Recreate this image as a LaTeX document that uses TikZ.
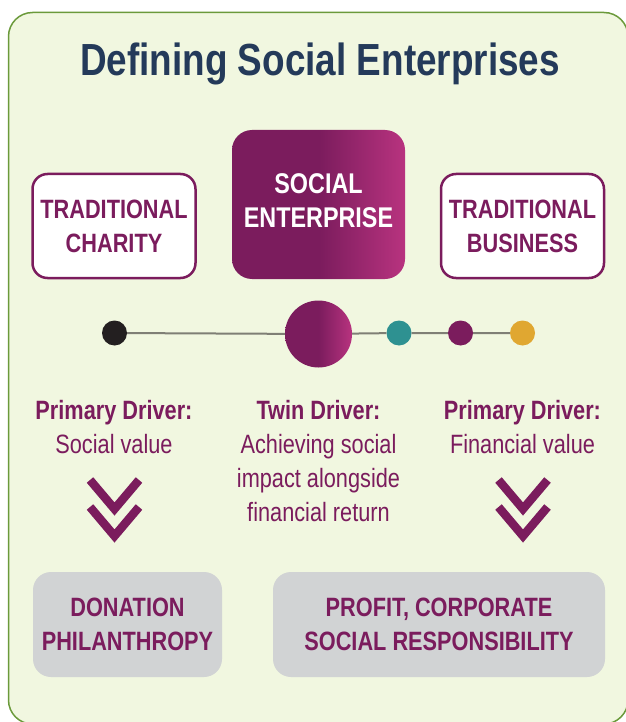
\documentclass[tikz,border=0pt]{standalone}
\usepackage{fontspec}
\setmainfont{Liberation Sans}[FakeStretch=0.82]
\usepackage{xcolor}
\usetikzlibrary{positioning}

\definecolor{sePlum}{HTML}{7B1C5D}
\definecolor{sePink}{HTML}{B8337F}
\definecolor{seNavy}{HTML}{243A5A}
\definecolor{sePanel}{HTML}{F1F7E0}
\definecolor{seEdge}{HTML}{6B9A3B}
\definecolor{seGrey}{HTML}{D1D3D4}
\definecolor{seTeal}{HTML}{2E9191}
\definecolor{seGold}{HTML}{E0A731}
\definecolor{seInk}{HTML}{231F20}
\definecolor{seLine}{HTML}{7F7F75}

\begin{document}
\begin{tikzpicture}[
    x=1pt, y=-1pt,
    every node/.style={font=\fontsize{26.5}{34}\selectfont, text=sePlum,
                       align=center, inner sep=0pt},
    sidebox/.style={draw=sePlum, line width=2.5pt, fill=white,
                    rounded corners=15pt, minimum width=163pt, minimum height=104pt,
                    font=\fontsize{26.5}{34}\selectfont\bfseries},
    corebox/.style={rounded corners=20pt, left color=sePlum, right color=sePink,
                    middle color=sePlum, minimum width=173pt, minimum height=149pt,
                    text=white, font=\fontsize{28.5}{34}\selectfont\bfseries},
    outcome/.style={fill=seGrey, rounded corners=18pt, minimum height=105pt,
                    font=\fontsize{26.5}{34}\selectfont\bfseries},
    dot/.style={circle, minimum size=25pt},
    driver/.style={anchor=north},
    chevron/.style={draw=sePlum, line width=8.5pt},
  ]
  \useasboundingbox (0,0) rectangle (625,722);

  % panel
  \draw[draw=seEdge, fill=sePanel, line width=1.5pt, rounded corners=24pt]
    (8.5,12.5) rectangle (628,724);

  \node[text=seNavy, font=\fontsize{45}{50}\selectfont\bfseries] (title) at (320,64)
    {Defining Social Enterprises};

  % the three models
  \node[sidebox] (charity) at (114,226) {TRADITIONAL\\CHARITY};
  \node[corebox] (enterprise) at (318.5,204.5) {SOCIAL\\ENTERPRISE\rule[-7pt]{0pt}{7pt}};
  \node[sidebox] (business) at (522.5,226) {TRADITIONAL\\BUSINESS};

  % spectrum line
  \node[dot, fill=seInk] (pBlack) at (114.5,333) {};
  \node[dot, minimum size=67pt, left color=sePlum, right color=sePink,
        middle color=sePlum] (pHub) at (318.5,334) {};
  \node[dot, fill=seTeal] (pTeal) at (399,333) {};
  \node[dot, fill=sePlum] (pPlum) at (460.5,333) {};
  \node[dot, fill=seGold] (pGold) at (522.5,333) {};
  \draw[seLine, line width=2pt] (pBlack) -- (pHub) -- (pTeal) -- (pPlum) -- (pGold);

  % drivers
  \node[driver] (drvCharity) at (114,400) {\textbf{Primary Driver:}\\Social value};
  \node[driver] (drvTwin) at (318.5,400)
    {\textbf{Twin Driver:}\\Achieving social\\impact alongside\\financial return};
  \node[driver] (drvBusiness) at (522.5,400) {\textbf{Primary Driver:}\\Financial value};

  \foreach \cx in {114.5,523}
    \foreach \cy in {480,507}
      \draw[chevron] ({\cx-24.5},\cy) -- (\cx,{\cy+29}) -- ({\cx+24.5},\cy);

  % outcomes
  \node[outcome, minimum width=189pt] (donation) at (127.5,624.5)
    {DONATION\\PHILANTHROPY};
  \node[outcome, minimum width=332pt] (profit) at (439,624.5)
    {PROFIT, CORPORATE\\SOCIAL RESPONSIBILITY};
\end{tikzpicture}
\end{document}
